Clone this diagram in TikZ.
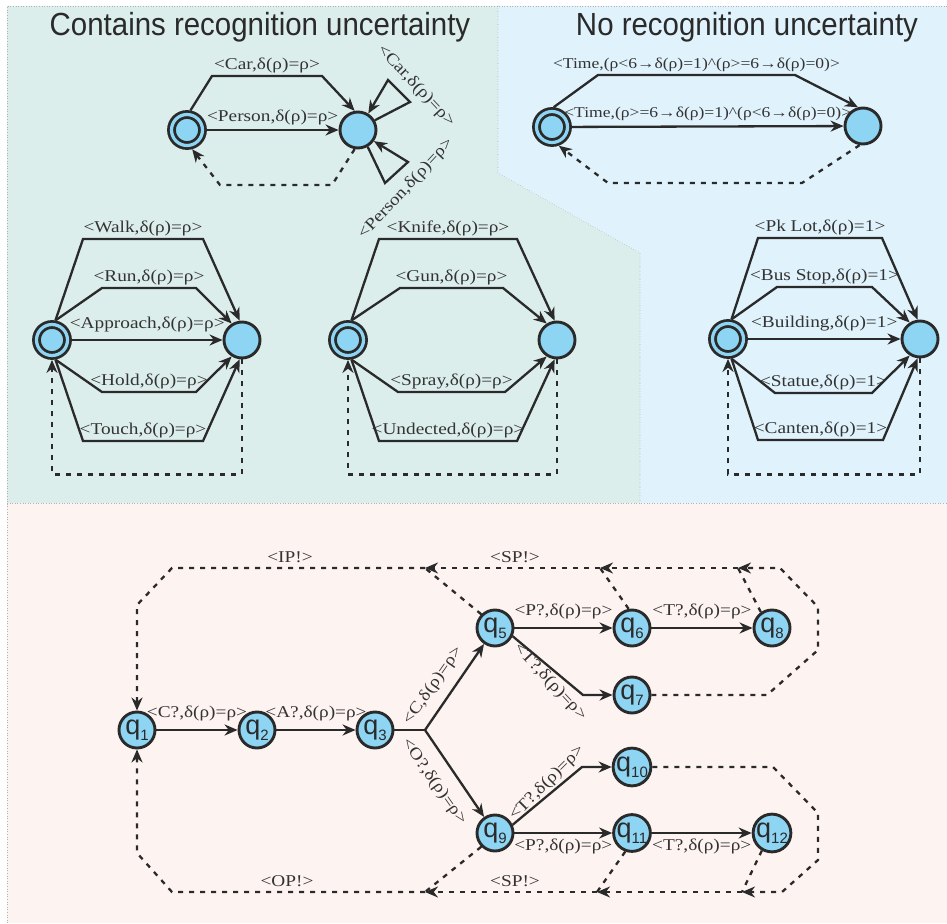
\documentclass[tikz,border=0pt]{standalone}
\usepackage{fontspec}
\setmainfont[FakeStretch=1.17]{Liberation Serif}
\newfontfamily\headfont[FakeStretch=0.92]{Liberation Sans}
\newfontfamily\qfont{Liberation Sans}
\usetikzlibrary{arrows.meta,calc}

\definecolor{stateblue}{HTML}{8ED4F3}
\definecolor{ink}{HTML}{2A2A2A}
\definecolor{txt}{HTML}{333333}
\definecolor{greenbg}{HTML}{DCEEEB}
\definecolor{bluebg}{HTML}{E0F2FB}
\definecolor{pinkbg}{HTML}{FDF3F1}

\newcommand{\qn}[1]{{\qfont\fontsize{27}{27}\selectfont q\raisebox{-6pt}{\fontsize{15}{15}\selectfont #1}}}

\tikzset{
  qstate/.style={circle, draw=ink, fill=stateblue, line width=2.9pt, minimum size=36pt, inner sep=0pt, text=ink},
  qstart/.style={circle, draw=ink, fill=stateblue, line width=2.8pt, double=stateblue, double distance=3.2pt, minimum size=31pt, inner sep=0pt, outer sep=4.4pt},
  trans/.style={draw=ink, line width=2.3pt, -{Stealth[length=13pt,width=11pt]}},
  ret/.style={trans, dash pattern=on 5pt off 6pt},
  lbl/.style={text=txt, font=\fontsize{16.5}{18}\selectfont, inner sep=1pt},
  timelbl/.style={lbl, font=\fontsize{15}{17}\selectfont},
  head/.style={text=ink, font=\headfont\fontsize{32}{35}\selectfont},
  panel/.style={draw=gray!60, dotted, line width=0.6pt},
}

\begin{document}
\begin{tikzpicture}[x=1pt, y=-1pt]
\useasboundingbox (0,0) rectangle (947,923);

% panels
\fill[greenbg] (7,6) -- (498,6) -- (498,173) -- (640,253) -- (640,503) -- (7,503) -- cycle;
\fill[bluebg] (498,6) -- (947,6) -- (947,503) -- (640,503) -- (640,253) -- (498,173) -- cycle;
\fill[pinkbg] (7,503) rectangle (947,923);
\draw[panel] (7,923) -- (7,6) -- (947,6);
\draw[panel] (498,6) -- (498,173) -- (640,253) -- (640,503);
\draw[panel] (7,503) -- (947,503);

\node[head] (headL) at (260,27) {Contains recognition uncertainty};
\node[head] (headR) at (747,27) {No recognition uncertainty};

% car / person
\node[qstart] (carI) at (187,130) {};
\node[qstate] (carF) at (358,130) {};
\draw[trans] (carI.80) -- (212,76) -- node[lbl,above=1pt]{<Car,δ(ρ)=ρ>} (322,76) -- (carF.100);
\draw[trans] (carI) -- node[lbl,above=3pt]{<Person,δ(ρ)=ρ>} (carF);
\draw[trans] (carF.30) -- (410,102) -- (388,80) -- (carF.58);
\draw[trans] (carF.-60) -- (385,183) -- (408,162) -- (carF.-35);
\node[lbl,rotate=-47] (carLoop) at (416,86) {<Car,δ(ρ)=ρ>};
\node[lbl,rotate=47] (personLoop) at (406,189) {<Person,δ(ρ)=ρ>};
\draw[ret] (carF.-100) -- (332,185) -- (220,185) -- (carI.-75);

% time
\node[qstart] (timeI) at (552,127) {};
\node[qstate] (timeF) at (863,126) {};
\draw[trans] (timeI.85) -- (598,75) -- node[timelbl,above=1pt]{<Time,(ρ<6→δ(ρ)=1)\textasciicircum(ρ>=6→δ(ρ)=0)>} (795,75) -- (timeF.105);
\draw[trans] (timeI) -- node[timelbl,above=4pt]{<Time,(ρ>=6→δ(ρ)=1)\textasciicircum(ρ<6→δ(ρ)=0)>} (timeF);
\draw[ret] (timeF.-100) -- (802,183) -- (608,183) -- (timeI.-70);

% actions
\node[qstart] (actI) at (52,340) {};
\node[qstate] (actF) at (242,340) {};
\foreach \lv/\s/\e/\ia/\fb/\t in {-101/80/97/31/39/{<Walk,δ(ρ)=ρ>}, -52/80/122/50/46/{<Run,δ(ρ)=ρ>},
    52/-80/-122/50/46/{<Hold,δ(ρ)=ρ>}, 101/-80/-97/31/39/{<Touch,δ(ρ)=ρ>}}
  \draw[trans] (actI.\s) -- ($(actI)+(\ia,\lv)$) -- node[lbl,above=1pt]{\t} ($(actF)+(-\fb,\lv)$) -- (actF.\e);
\draw[trans] (actI) -- node[lbl,above=6pt]{<Approach,δ(ρ)=ρ>} (actF);
\draw[ret] (actF.south) -- ++(0,115) -| (actI.south);

% weapons
\node[qstart] (wpnI) at (348,340) {};
\node[qstate] (wpnF) at (557,340) {};
\foreach \lv/\s/\e/\ia/\fb/\t in {-101/80/97/31/40/{<Knife,δ(ρ)=ρ>}, -52/80/122/52/54/{<Gun,δ(ρ)=ρ>},
    52/-80/-122/50/52/{<Spray,δ(ρ)=ρ>}, 101/-80/-97/31/40/{<Undected,δ(ρ)=ρ>}}
  \draw[trans] (wpnI.\s) -- ($(wpnI)+(\ia,\lv)$) -- node[lbl,above=1pt]{\t} ($(wpnF)+(-\fb,\lv)$) -- (wpnF.\e);
\draw[ret] (wpnF.south) -- ++(0,115) -| (wpnI.south);

% locations
\node[qstart] (locI) at (728,339) {};
\node[qstate] (locF) at (920,339) {};
\foreach \lv/\s/\e/\ia/\fb/\t in {-101/80/97/30/38/{<Pk Lot,δ(ρ)=1>}, -52/80/122/49/48/{<Bus Stop,δ(ρ)=1>},
    54/-80/-122/47/48/{<Statue,δ(ρ)=1>}, 101/-80/-97/30/37/{<Canten,δ(ρ)=1>}}
  \draw[trans] (locI.\s) -- ($(locI)+(\ia,\lv)$) -- node[lbl,above=1pt]{\t} ($(locF)+(-\fb,\lv)$) -- (locF.\e);
\draw[trans] (locI) -- node[lbl,above=6pt]{<Building,δ(ρ)=1>} (locF);
\draw[ret] (locF.south) -- ++(0,116) -| (locI.south);

% scenario
\node[qstate] (q1) at (137,730) {\qn{1}};
\node[qstate] (q2) at (257,730) {\qn{2}};
\node[qstate] (q3) at (375,730) {\qn{3}};
\node[qstate] (q5) at (495,628) {\qn{5}};
\node[qstate] (q6) at (632,628) {\qn{6}};
\node[qstate] (q8) at (772,628) {\qn{8}};
\node[qstate] (q7) at (632,695) {\qn{7}};
\node[qstate] (q9) at (495,833) {\qn{9}};
\node[qstate] (q10) at (632,767) {\qn{10}};
\node[qstate] (q11) at (632,833) {\qn{11}};
\node[qstate] (q12) at (772,833) {\qn{12}};
\coordinate (fork) at (425,730);

\draw[trans] (q1) -- node[lbl,above=7pt]{<C?,δ(ρ)=ρ>} (q2);
\draw[trans] (q2) -- node[lbl,above=7pt]{<A?,δ(ρ)=ρ>} (q3);
\draw[trans,-] (q3) -- (fork);
\draw[trans] (fork) -- (q5);
\draw[trans] (fork) -- (q9);
\node[lbl,rotate=55] (lblC) at (433,686) {<C,δ(ρ)=ρ>};
\node[lbl,rotate=-55] (lblO) at (434,782) {<O?,δ(ρ)=ρ>};
\draw[trans] (q5) -- node[lbl,above=7pt]{<P?,δ(ρ)=ρ>} (q6);
\draw[trans] (q6) -- node[lbl,above=7pt]{<T?,δ(ρ)=ρ>} (q8);
\draw[trans] (q5.-25) -- (583,695) -- (q7);
\node[lbl,rotate=-47] (lblT7) at (550,682) {<T?,δ(ρ)=ρ>};
\draw[trans] (q9.25) -- (582,767) -- (q10);
\node[lbl,rotate=45] (lblT10) at (547,783) {<T?,δ(ρ)=ρ>};
\draw[trans] (q9) -- node[lbl,below=4pt]{<P?,δ(ρ)=ρ>} (q11);
\draw[trans] (q11) -- node[lbl,below=4pt]{<T?,δ(ρ)=ρ>} (q12);

% feedback
\coordinate (ip) at (425,568);
\coordinate (sp6) at (600,568);
\coordinate (sp8) at (738,568);
\draw[ret] (q7) -- (767,695) -- (818,650) -- (818,607) -- (780,568) -- (sp8);
\draw[ret,-] (q8.125) -- (sp8);
\draw[ret] (sp8) -- (sp6);
\draw[ret,-] (q6.100) -- (sp6);
\draw[ret] (sp6) -- (ip);
\draw[ret,-] (q5.135) -- (ip);
\draw[ret] (ip) -- (172,568) -- (137,605) -- (q1.north);
\node[lbl] (ipLbl) at (290,557) {<IP!>};
\node[lbl] (spTop) at (515,557) {<SP!>};

\coordinate (op) at (425,892);
\coordinate (sp11) at (597,892);
\coordinate (sp12) at (742,892);
\draw[ret] (q10) -- (773,767) -- (818,813) -- (818,860) -- (782,892) -- (sp12);
\draw[ret,-] (q12.-120) -- (sp12);
\draw[ret] (sp12) -- (sp11);
\draw[ret,-] (q11.-110) -- (sp11);
\draw[ret] (sp11) -- (op);
\draw[ret,-] (q9.-135) -- (op);
\draw[ret] (op) -- (172,892) -- (137,853) -- (q1.south);
\node[lbl] (opLbl) at (287,881) {<OP!>};
\node[lbl] (spBot) at (515,881) {<SP!>};
\end{tikzpicture}
\end{document}
